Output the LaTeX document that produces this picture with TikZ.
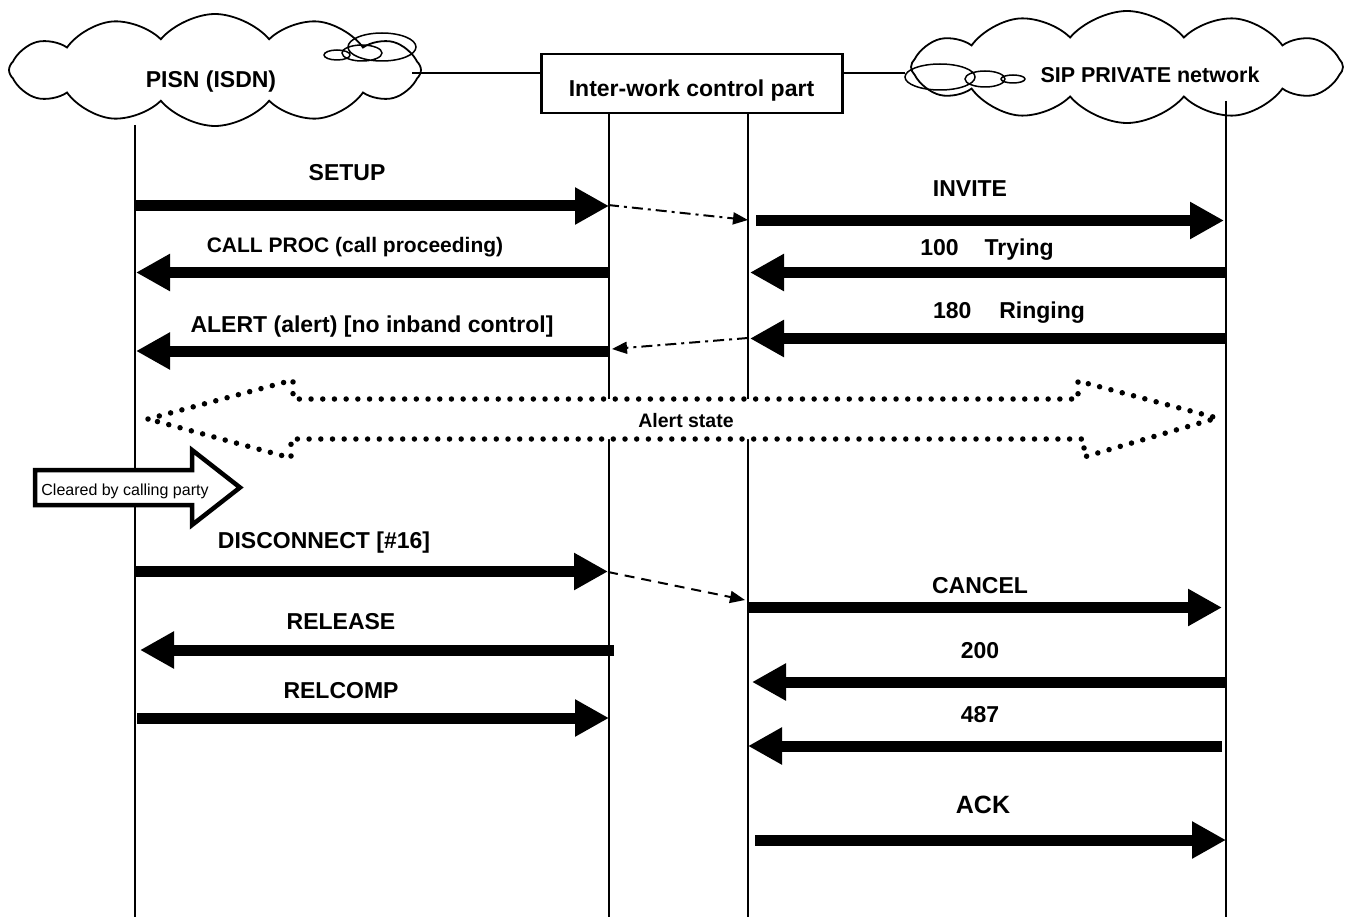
\documentclass[tikz,border=0pt]{standalone}
\usepackage{fontspec}
\setmainfont{Liberation Sans}
\usetikzlibrary{arrows.meta,shapes.symbols}

\tikzset{
  net/.style={cloud, cloud puffs=12, cloud puff arc=100, aspect=3.6, draw, line width=1.8pt, inner sep=0pt},
  iwbox/.style={draw, line width=2.5pt, minimum width=301pt, minimum height=59pt, inner sep=0pt},
  life/.style={line width=2pt},
  msg/.style={line width=11pt, -{Triangle[length=34pt,width=35pt]}},
  hop/.style={line width=2pt, -{Triangle[length=15pt,width=12pt]}},
  lbl/.style={font=\bfseries\fontsize{23}{27}\selectfont, inner sep=0pt},
}

\begin{document}
\begin{tikzpicture}[x=1pt,y=-1pt,line join=miter]
        \useasboundingbox (0,0) rectangle (1351,917);

        % draw the networks and the inter-work part
        \node[net, minimum width=412pt, minimum height=112pt] (pisn) at (215,70) {};
        \node[net, minimum width=432pt, minimum height=112pt] (sip) at (1127,67) {};
        \node[iwbox] (iw) at (692,83.5) {};
        \node[lbl, anchor=base] (pisnname) at (211,88) {PISN (ISDN)};
        \node[lbl, anchor=base, font=\bfseries\fontsize{21.5}{25}\selectfont] (sipname) at (1150,83) {SIP PRIVATE network};
        \node[lbl, anchor=base] (iwname) at (691.5,97) {Inter-work control part};

        % small bubbles of the clouds
        \draw[line width=1.5pt] (382,47) ellipse [x radius=34, y radius=14]
                                (362,53) ellipse [x radius=20, y radius=8]
                                (337,55) ellipse [x radius=13, y radius=5];
        \draw[line width=1.5pt] (940,77) ellipse [x radius=35, y radius=13]
                                (985,79) ellipse [x radius=20, y radius=8]
                                (1013,79) ellipse [x radius=12, y radius=4];

        % links between the clouds and the box
        \coordinate (pisnport) at (412,73);
        \coordinate (sipport) at (905,73);
        \draw[life] (pisnport) -- (pisnport -| iw.west);
        \draw[life] (iw.east |- sipport) -- (sipport);

        % lifelines
        \foreach \name/\x/\top in {isdn/135/125, iwa/609/113, iwb/748/113, sipn/1226/101} {
                \coordinate (\name-top) at (\x,\top);
                \coordinate (\name-bot) at (\x,917);
                \draw[life] (\name-top) -- (\name-bot);
        }

        % draw each message with its name
        \foreach \name/\xa/\xb/\y/\lx/\ly/\fs/\txt in {
            setup/135/609/206/347/181/23/SETUP,
            invite/756/1224/220.5/970/197/23/INVITE,
            proc/609/136/272.5/355/253/21/{CALL PROC (call proceeding)},
            trying/1226/750/272.5/987/255/23/{100\hspace{26pt}Trying},
            ringing/1226/750/338.5/1009/318/23/{180\hspace{28pt}Ringing},
            alert/609/136/351/372/332/23/{ALERT (alert) [no inband control]},
            disc/135/608/571.5/324/548/23/{DISCONNECT [\#16]},
            cancel/748/1222/607.5/980/593/23/CANCEL,
            release/614/140/650/341/629/23/RELEASE,
            cancelok/1226/752/682/980/658/23/200,
            relcomp/137/609/718/341/698/23/RELCOMP,
            reqterm/1222/748/746/980/722/23/487,
            ack/755/1226/840/983/813/25/ACK}
        {
                \coordinate (\name-s) at (\xa,\y);
                \coordinate (\name-e) at (\xb,\y);
                \draw[msg] (\name-s) -- (\name-e);
                \node[lbl, anchor=base, font=\bfseries\fontsize{\fs}{\fs}\selectfont] (\name-l) at (\lx,\ly) {\txt};
        }

        % hops through the inter-work part
        \coordinate (hopa-s) at (608,205);
        \coordinate (hopa-e) at (748,220);
        \coordinate (hopb-s) at (748,338);
        \coordinate (hopb-e) at (612,349);
        \coordinate (hopc-s) at (608,572);
        \coordinate (hopc-e) at (745,600);
        \draw[hop, dash pattern=on 11pt off 5pt on 3pt off 5pt] (hopa-s) -- (hopa-e);
        \draw[hop, dash pattern=on 11pt off 5pt on 3pt off 5pt] (hopb-s) -- (hopb-e);
        \draw[hop, dash pattern=on 10pt off 7pt] (hopc-s) -- (hopc-e);

        % alert state
        \draw[fill=white, line width=5.5pt, line cap=round, dash pattern=on 0pt off 11.7pt]
              (148,419) -- (293,380) -- (293,399) -- (1078,399) -- (1078,381)
              -- (1217,418) -- (1084,457) -- (1084,439) -- (291,439) -- (291,458) -- cycle;
        \node[lbl, anchor=base, font=\bfseries\fontsize{19.5}{23}\selectfont] (alertstate) at (686,427) {Alert state};

        % cleared by calling party
        \draw[fill=white, line width=4.5pt]
              (35,470) -- (192,470) -- (192,450) -- (240,487.5) -- (192,525) -- (192,505) -- (35,505) -- cycle;
        \node[anchor=base, inner sep=0pt, font=\fontsize{16}{19}\selectfont] (cleared) at (125,495) {Cleared by calling party};
\end{tikzpicture}
\end{document}
